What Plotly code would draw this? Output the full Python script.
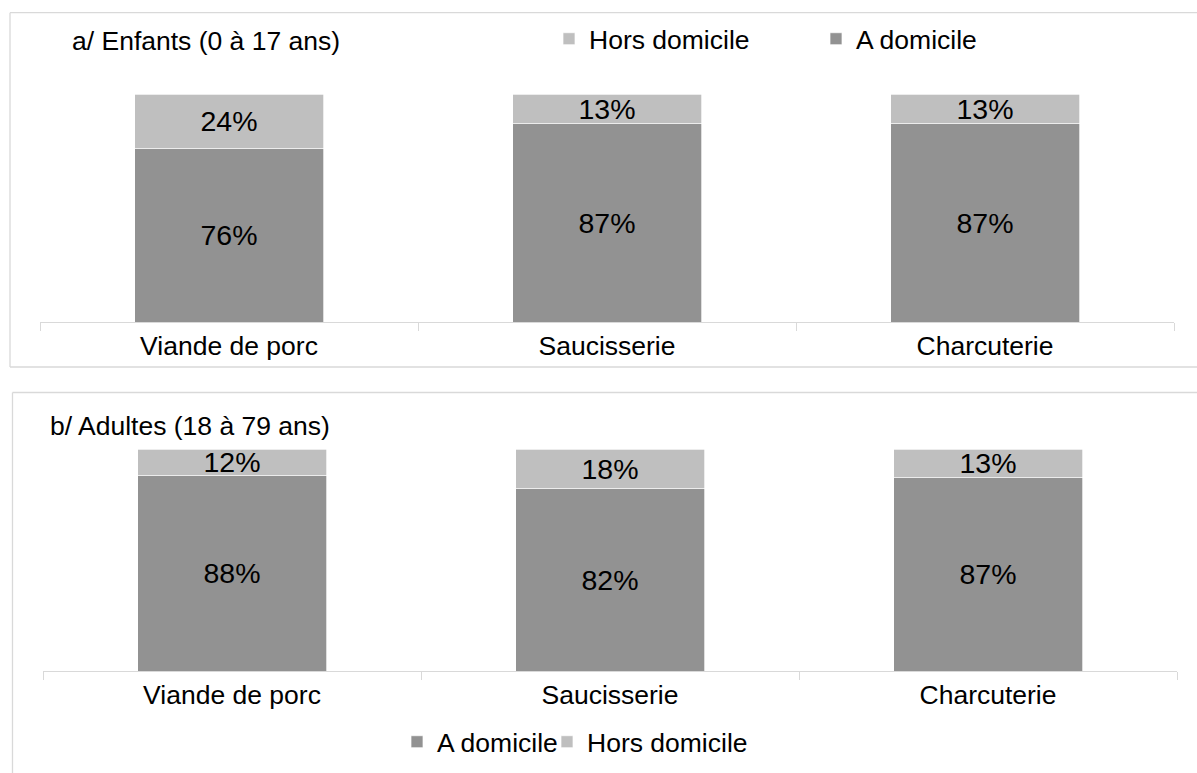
import plotly.graph_objects as go

categories = ["Viande de porc", "Saucisserie", "Charcuterie"]
enfants_domicile = [76, 87, 87]
enfants_hors = [24, 13, 13]
adultes_domicile = [88, 82, 87]
adultes_hors = [12, 18, 13]
series_names = ["A domicile", "Hors domicile"]
panel_titles = ["a/ Enfants (0 à 17 ans)", "b/ Adultes (18 à 79 ans)"]

W, H = 1197, 773


def px(x):
    return x / W


def py(y):
    return 1 - y / H


DARK = "#929292"
LIGHT = "#bfbfbf"
LINE = "#d9d9d9"
FONT = "Arial, 'Liberation Sans', sans-serif"
FS = 26.5
FS_VAL = 28.5

fig = go.Figure()


def add(vals, name, color, xa, ya, leg, rank):
    fig.add_trace(go.Bar(
        x=categories, y=vals, name=name,
        marker=dict(color=color, line=dict(color="white", width=0.7)),
        texttemplate="%{y}%", textposition="inside", insidetextanchor="middle",
        constraintext="none", textfont=dict(size=FS_VAL, color="black", family=FONT),
        xaxis=xa, yaxis=ya, legend=leg, legendrank=rank, hoverinfo="skip",
    ))


add(enfants_domicile, series_names[0], DARK, "x", "y", "legend", 2)
add(enfants_hors, series_names[1], LIGHT, "x", "y", "legend", 1)
add(adultes_domicile, series_names[0], DARK, "x2", "y2", "legend2", 1)
add(adultes_hors, series_names[1], LIGHT, "x2", "y2", "legend3", 2)

xcommon = dict(
    range=[-0.5, 2.5], showline=True, linecolor=LINE, linewidth=1.3,
    ticks="outside", tickson="boundaries", ticklen=8, tickcolor=LINE, tickwidth=1.3,
    tickfont=dict(size=FS, color="black", family=FONT), showgrid=False, zeroline=False,
    fixedrange=True,
)
ycommon = dict(range=[0, 100], visible=False, showgrid=False, fixedrange=True)

line = dict(color=LINE, width=1.3)
shapes = [
    # top panel frame
    dict(type="line", xref="paper", yref="paper", x0=px(10), x1=px(1200), y0=py(12.7), y1=py(12.7), line=line),
    dict(type="line", xref="paper", yref="paper", x0=px(10), x1=px(10), y0=py(12.7), y1=py(367), line=line),
    dict(type="line", xref="paper", yref="paper", x0=px(10), x1=px(1200), y0=py(367), y1=py(367), line=line),
    # bottom panel frame
    dict(type="line", xref="paper", yref="paper", x0=px(12.5), x1=px(1200), y0=py(392.5), y1=py(392.5), line=line),
    dict(type="line", xref="paper", yref="paper", x0=px(12.5), x1=px(12.5), y0=py(392.5), y1=py(780), line=line),
]

legfont = dict(size=FS, color="black", family=FONT)
fig.update_layout(
    width=W, height=H, autosize=False,
    margin=dict(l=0, r=0, t=0, b=0),
    paper_bgcolor="white", plot_bgcolor="white",
    font=dict(family=FONT, size=FS, color="black"),
    barmode="stack", bargap=0.5,
    xaxis=dict(domain=[px(40), px(1174)], anchor="y", **xcommon),
    yaxis=dict(domain=[py(322), py(94)], anchor="x", **ycommon),
    xaxis2=dict(domain=[px(43), px(1177)], anchor="y2", **xcommon),
    yaxis2=dict(domain=[py(671), py(449)], anchor="x2", **ycommon),
    legend=dict(orientation="h", x=px(549), xanchor="left", y=py(39), yanchor="middle",
                entrywidth=222, itemwidth=30, traceorder="normal", font=legfont,
                bgcolor="rgba(0,0,0,0)"),
    legend2=dict(orientation="h", x=px(397), xanchor="left", y=py(742), yanchor="middle",
                 itemwidth=30, traceorder="normal", font=legfont,
                 bgcolor="rgba(0,0,0,0)"),
    legend3=dict(orientation="h", x=px(547), xanchor="left", y=py(742), yanchor="middle",
                 itemwidth=30, traceorder="normal", font=legfont,
                 bgcolor="rgba(0,0,0,0)"),
    annotations=[
        dict(text=panel_titles[0], xref="paper", yref="paper", x=px(70), y=py(41),
             xanchor="left", yanchor="middle", showarrow=False, font=dict(size=FS, color="black")),
        dict(text=panel_titles[1], xref="paper", yref="paper", x=px(48), y=py(426),
             xanchor="left", yanchor="middle", showarrow=False, font=dict(size=FS, color="black")),
    ],
    shapes=shapes,
    showlegend=True,
)

fig.write_html("out.html", config={"displayModeBar": False},
               post_script="document.body.style.margin='0';document.body.style.padding='0';")
